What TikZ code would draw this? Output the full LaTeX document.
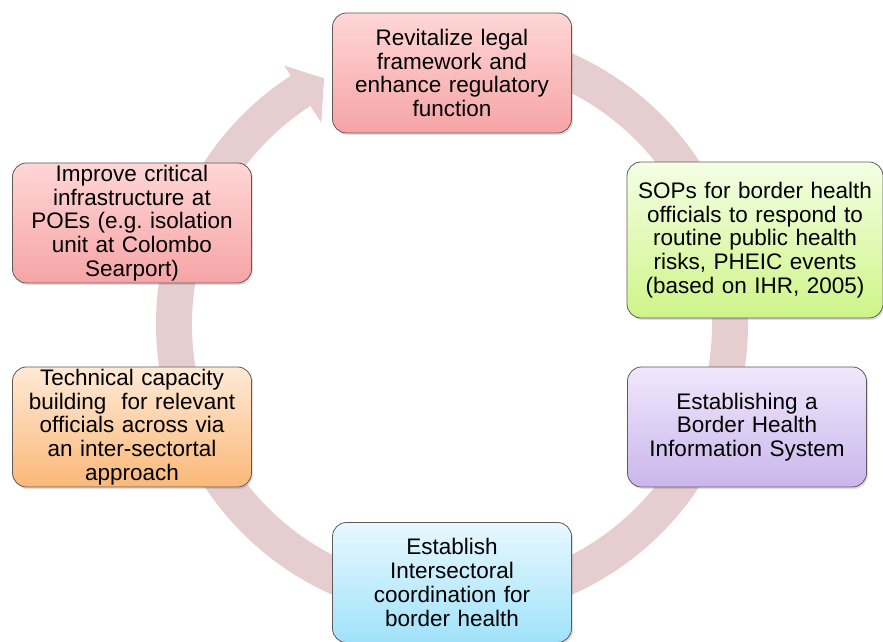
\documentclass[tikz,border=0pt]{standalone}
\usepackage{fontspec}
\setmainfont{Liberation Sans}
\usetikzlibrary{positioning,shadows}
\frenchspacing

\definecolor{ringpink}{RGB}{230,206,208}
\definecolor{boxline}{RGB}{95,90,90}
\definecolor{redtop}{RGB}{255,214,214}
\definecolor{redbot}{RGB}{246,164,166}
\definecolor{greentop}{RGB}{244,255,228}
\definecolor{greenbot}{RGB}{206,244,136}
\definecolor{purptop}{RGB}{240,232,252}
\definecolor{purpbot}{RGB}{202,182,236}
\definecolor{bluetop}{RGB}{232,248,255}
\definecolor{bluebot}{RGB}{160,226,250}
\definecolor{orgtop}{RGB}{255,234,214}
\definecolor{orgbot}{RGB}{250,184,120}

\tikzset{
  stepbox/.style={draw=boxline, line width=0.8pt, rounded corners=14pt,
    minimum width=239pt, minimum height=120pt, text width=236pt,
    align=center, inner sep=0pt, anchor=center,
    font=\fontsize{22.5}{23.7}\selectfont,
    drop shadow={opacity=0.25, shadow xshift=1.5pt, shadow yshift=-2pt}},
  redbox/.style={stepbox, top color=redtop, bottom color=redbot},
  greenbox/.style={stepbox, top color=greentop, bottom color=greenbot,
    minimum width=256pt, minimum height=156pt, text width=254pt},
  purplebox/.style={stepbox, top color=purptop, bottom color=purpbot},
  bluebox/.style={stepbox, top color=bluetop, bottom color=bluebot},
  orangebox/.style={stepbox, top color=orgtop, bottom color=orgbot}
}

\begin{document}
\begin{tikzpicture}[x=1pt,y=1pt]
   \useasboundingbox (0,0) rectangle (883,642);
   \coordinate (c) at (452,318);
   % the cycle arrow behind the boxes
   \begin{scope}[shift={(c)}]
    \fill[ringpink] (95:296) arc[start angle=95, end angle=-237, radius=296]
      -- (123:308) -- (117.5:277) -- (123:240) -- (123:260)
      arc[start angle=-237, end angle=95, radius=260] -- cycle;
   \end{scope}
   \node[redbox] (n_legal) at ([yshift=251pt]c)
     {Revitalize legal\\framework and\\enhance regulatory\\function};
   \node[greenbox] (n_sops) at ([shift={(303pt,84pt)}]c)
     {SOPs for border health\\officials to respond to\\routine public health\\risks, PHEIC events\\(based on IHR, 2005)};
   \node[purplebox] (n_info) at ([shift={(295pt,-103pt)}]c)
     {Establishing a\\Border Health\\Information System};
   \node[bluebox] (n_coord) at ([yshift=-258.5pt]c)
     {Establish\\Intersectoral\\coordination for\\border health};
   \node[orangebox] (n_tech) at ([shift={(-320pt,-103pt)}]c)
     {Technical capacity\\building\ \ for relevant\\officials across via\\an inter-sectortal\\approach};
   \node[redbox] (n_infra) at ([shift={(-320pt,101pt)}]c)
     {Improve critical\\infrastructure at\\POEs (e.g. isolation\\unit at Colombo\\Searport)};
\end{tikzpicture}
\end{document}
